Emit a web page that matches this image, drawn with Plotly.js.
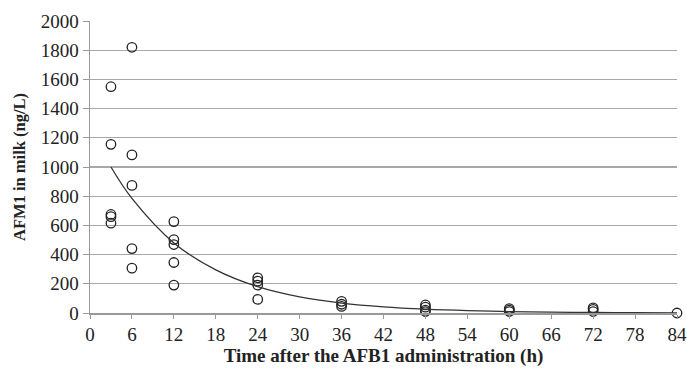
<!DOCTYPE html>
<html><head><meta charset="utf-8">
<script src="https://cdn.plot.ly/plotly-3.0.1.min.js"></script>
<style>html,body{margin:0;padding:0;background:#fff}</style>
</head><body>
<div id="chart" style="width:687px;height:372px"></div>
<script>
// Observed AFM1 concentrations (ng/L) by time (h)
const timeH = [3,3,3,3,3, 6,6,6,6,6, 12,12,12,12,12, 24,24,24,24, 36,36,36, 48,48,48,48, 60,60,60, 72,72,72, 84];
const afm1 = [1550,1155,675,660,615, 1820,1083,874,441,307, 626,503,469,346,191, 241,218,191,93, 80,60,45, 55,40,20,10, 30,20,10, 35,25,10, 0];
// Trend curve values
const trendX = [3,6,12,18,24,30,36,42,48,54,60,66,72,78,84];
const trendY = [1000,785,480,295,180,110,68,42,26,16,10,6,4,2,1];
const xTicks = [0,6,12,18,24,30,36,42,48,54,60,66,72,78,84];

const traces = [
  {x: timeH, y: afm1, type:'scatter', mode:'markers',
   marker:{symbol:'circle-open', size:9.5, color:'#222', line:{width:1.3, color:'#222'}},
   cliponaxis:false, hoverinfo:'x+y'},
  {x: trendX, y: trendY, type:'scatter', mode:'lines',
   line:{color:'#333', width:1.3, shape:'spline'}, hoverinfo:'skip'}
];
const layout = {
  width:687, height:372,
  margin:{l:90, r:10, t:21, b:59},
  paper_bgcolor:'#fff', plot_bgcolor:'#fff',
  showlegend:false,
  font:{family:'"Liberation Serif", "Times New Roman", serif', size:19, color:'#222'},
  xaxis:{range:[0,84], tickvals:xTicks, ticktext:xTicks.map(String),
    showgrid:false, zeroline:false, showline:true, linecolor:'#999', linewidth:1.5,
    ticks:'outside', ticklen:4, tickcolor:'#999',
    tickfont:{size:19},
    title:{text:'<b>Time after the AFB1 administration (h)</b>', font:{size:19}, standoff:2}},
  yaxis:{range:[0,2000], dtick:200,
    showgrid:true, gridcolor:'#a8a8a8', gridwidth:1.3, zeroline:false,
    showline:true, linecolor:'#999', linewidth:1.5,
    ticks:'outside', ticklen:6, tickcolor:'#999',
    tickfont:{size:19},
    title:{text:'<b>AFM1 in milk (ng/L)</b>', font:{size:16.5}, standoff:11}}
};
Plotly.newPlot('chart', traces, layout, {staticPlot:true, displayModeBar:false});
</script>
</body></html>
